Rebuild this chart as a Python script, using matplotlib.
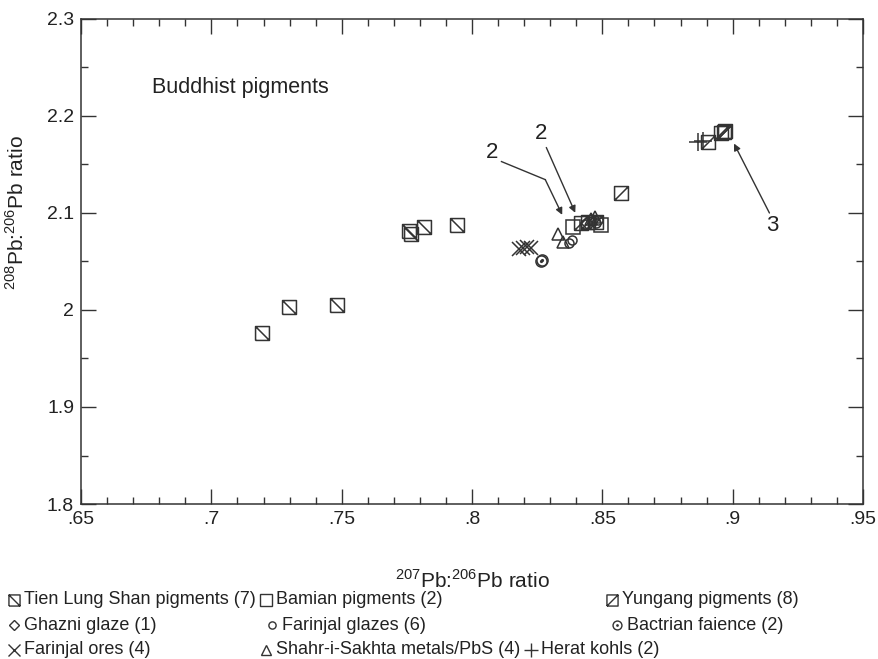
import matplotlib
matplotlib.use("Agg")
import matplotlib.pyplot as plt
from matplotlib.path import Path
from matplotlib.lines import Line2D
from matplotlib.ticker import MultipleLocator, FixedLocator, FixedFormatter

# --- data ---
tls_x = [0.7195, 0.7299, 0.7482, 0.7757, 0.7765, 0.7815, 0.7941]
tls_y = [1.976, 2.003, 2.005, 2.0816, 2.0785, 2.0857, 2.0878]

bamian_x = [0.8388, 0.8495]
bamian_y = [2.0857, 2.0878]

yungang_x = [0.8957, 0.8965, 0.8969, 0.8904, 0.8571, 0.8418, 0.8445, 0.8476]
yungang_y = [2.182, 2.184, 2.185, 2.1727, 2.1209, 2.0899, 2.0909, 2.0909]

ghazni_x = [0.8441]
ghazni_y = [2.090]

fglaze_x = [0.8373, 0.8384, 0.8434, 0.8460, 0.8476, 0.8483]
fglaze_y = [2.0692, 2.0723, 2.0888, 2.092, 2.090, 2.093]

bactrian_x = [0.8266, 0.8270]
bactrian_y = [2.0505, 2.0515]

fores_x = [0.8181, 0.8197, 0.8212, 0.8227]
fores_y = [2.063, 2.064, 2.065, 2.064]

shahr_x = [0.8330, 0.8349, 0.8457, 0.8472]
shahr_y = [2.0785, 2.0702, 2.094, 2.096]

herat_x = [0.8866, 0.8888]
herat_y = [2.1727, 2.1737]

x_ticks = [0.65, 0.70, 0.75, 0.80, 0.85, 0.90, 0.95]
x_labels = [".65", ".7", ".75", ".8", ".85", ".9", ".95"]
y_ticks = [1.8, 1.9, 2.0, 2.1, 2.2, 2.3]
y_labels = ["1.8", "1.9", "2", "2.1", "2.2", "2.3"]

names = {
    "tls": "Tien Lung Shan pigments (7)",
    "bamian": "Bamian pigments (2)",
    "yungang": "Yungang pigments (8)",
    "ghazni": "Ghazni glaze (1)",
    "fglaze": "Farinjal glazes (6)",
    "bactrian": "Bactrian faience (2)",
    "fores": "Farinjal ores (4)",
    "shahr": "Shahr-i-Sakhta metals/PbS (4)",
    "herat": "Herat kohls (2)",
}

FONT = "Liberation Sans"
plt.rcParams["font.family"] = [FONT, "DejaVu Sans"]
plt.rcParams["mathtext.fontset"] = "custom"
plt.rcParams["mathtext.rm"] = FONT

INK = "#333333"
TXT_C = "#222222"

# custom markers: square with a diagonal, circle with a dot
_sq = [(-1, -1), (1, -1), (1, 1), (-1, 1), (-1, -1)]
sq_back = Path(_sq + [(-1, 1), (1, -1)],
               [Path.MOVETO] + [Path.LINETO] * 4 + [Path.MOVETO, Path.LINETO])
sq_fwd = Path(_sq + [(-1, -1), (1, 1)],
              [Path.MOVETO] + [Path.LINETO] * 4 + [Path.MOVETO, Path.LINETO])
dot_circle = Path.make_compound_path(Path.unit_circle(), Path.circle(radius=0.15))

styles = {
    "tls": dict(marker=sq_back, ms=10),
    "bamian": dict(marker="s", ms=10),
    "yungang": dict(marker=sq_fwd, ms=10),
    "ghazni": dict(marker="D", ms=6),
    "fglaze": dict(marker="o", ms=6.5),
    "bactrian": dict(marker=dot_circle, ms=8),
    "fores": dict(marker="x", ms=10),
    "shahr": dict(marker="^", ms=9),
    "herat": dict(marker="+", ms=13),
}

series = [
    ("tls", tls_x, tls_y), ("bamian", bamian_x, bamian_y),
    ("yungang", yungang_x, yungang_y), ("ghazni", ghazni_x, ghazni_y),
    ("fglaze", fglaze_x, fglaze_y), ("bactrian", bactrian_x, bactrian_y),
    ("fores", fores_x, fores_y), ("shahr", shahr_x, shahr_y),
    ("herat", herat_x, herat_y),
]

fig = plt.figure(figsize=(8.79, 6.59), dpi=100)
ax = fig.add_axes([0.0922, 0.2352, 0.8896, 0.7360])

for key, xs, ys in series:
    st = styles[key]
    ax.plot(xs, ys, ls="none", marker=st["marker"], ms=st["ms"],
            mfc="none", mec=INK, mew=1.1, label=names[key])

ax.set_xlim(0.65, 0.95)
ax.set_ylim(1.8, 2.3)
ax.xaxis.set_major_locator(FixedLocator(x_ticks))
ax.xaxis.set_major_formatter(FixedFormatter(x_labels))
ax.yaxis.set_major_locator(FixedLocator(y_ticks))
ax.yaxis.set_major_formatter(FixedFormatter(y_labels))
ax.xaxis.set_minor_locator(MultipleLocator(0.01))
ax.yaxis.set_minor_locator(MultipleLocator(0.05))
ax.tick_params(which="both", direction="in", top=True, right=True,
               colors=INK, labelcolor=TXT_C, labelsize=14, width=1.0)
ax.tick_params(which="major", length=11, pad=5)
ax.tick_params(which="minor", length=5)
for sp in ax.spines.values():
    sp.set_color(INK)
    sp.set_linewidth(1.1)

ax.set_xlabel("$^{207}$Pb:$^{206}$Pb ratio", fontsize=15, color=TXT_C)
ax.set_ylabel("$^{208}$Pb:$^{206}$Pb ratio", fontsize=15, color=TXT_C)
ax.xaxis.set_label_coords(0.5, -0.135)
ax.yaxis.set_label_coords(-0.068, 0.60)

ax.text(0.6771, 2.2296, "Buddhist pigments", fontsize=15.5, color=TXT_C,
        va="center", ha="left")

# annotations
arrow = dict(arrowstyle="-|>", color=INK, lw=1.0, mutation_scale=10,
             shrinkA=0, shrinkB=0)
ax.text(0.8078, 2.1623, "2", fontsize=16, ha="center", va="center", color=TXT_C)
ax.plot([0.8113, 0.8281], [2.153, 2.1344], color=INK, lw=1.0)
ax.annotate("", xy=(0.8346, 2.0981), xytext=(0.8281, 2.1344), arrowprops=arrow)
ax.text(0.8266, 2.182, "2", fontsize=16, ha="center", va="center", color=TXT_C)
ax.annotate("", xy=(0.8396, 2.1002), xytext=(0.8285, 2.1675), arrowprops=arrow)
ax.text(0.9152, 2.0868, "3", fontsize=16, ha="center", va="center", color=TXT_C)
ax.annotate("", xy=(0.9005, 2.1716), xytext=(0.9141, 2.100), arrowprops=arrow)

# legend laid out like the printed key (marker centre, in figure pixels)
LEG_FS = 13
legend_pos = {
    "tls": (14, 600), "bamian": (266, 600), "yungang": (612, 600),
    "ghazni": (14, 625), "fglaze": (272, 625), "bactrian": (617, 625),
    "fores": (14, 650), "shahr": (266, 650), "herat": (531, 650),
}
W, H = 879, 659
for key, (px, py) in legend_pos.items():
    st = styles[key]
    fig.add_artist(Line2D([px / W], [1 - py / H], transform=fig.transFigure,
                          ls="none", marker=st["marker"], ms=st["ms"] * 0.8,
                          mfc="none", mec=INK, mew=1.0))
    fig.text((px + 10) / W, 1 - py / H, names[key], fontsize=LEG_FS,
             color=TXT_C, va="center", ha="left")

fig.savefig("out.png", dpi=100)
